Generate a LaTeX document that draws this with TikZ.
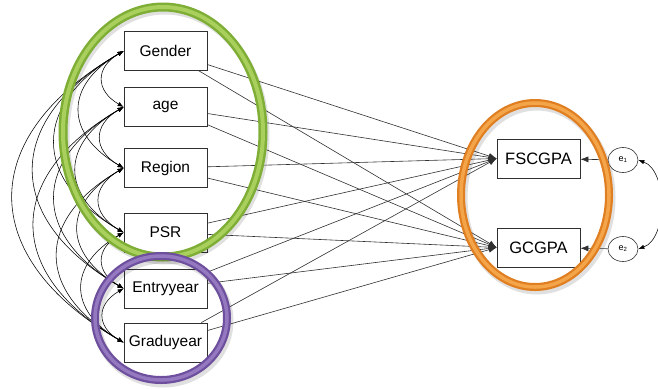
\documentclass[tikz,border=0pt]{standalone}
\usepackage{fontspec}
\setmainfont{Liberation Sans}
\usetikzlibrary{arrows.meta,shapes.geometric}
\definecolor{grnD}{HTML}{7FAE36}
\definecolor{grnL}{HTML}{A9CF5C}
\definecolor{purD}{HTML}{6E4F9E}
\definecolor{purL}{HTML}{9479C0}
\definecolor{orgD}{HTML}{E07F22}
\definecolor{orgL}{HTML}{F4A54A}
\definecolor{lineC}{HTML}{303030}
\begin{document}
\begin{tikzpicture}[x=1pt,y=-1pt,
  varbox/.style={draw=lineC,line width=0.7pt,fill=white,minimum width=83pt,minimum height=39pt,inner sep=0pt,font=\fontsize{15.5}{18}\selectfont},
  errnode/.style={draw=lineC,line width=0.6pt,ellipse,minimum width=30pt,minimum height=25pt,inner sep=0pt,font=\fontsize{9}{10}\selectfont},
  path/.style={draw=lineC,line width=0.6pt,-{Latex[length=8pt,width=6pt]}},
  cov/.style={draw=black,line width=0.55pt,{Latex[length=6pt,width=4.5pt]}-{Latex[length=6pt,width=4.5pt]}},
  ringshadow/.style={line width=9pt,draw=black,opacity=0.12},
]
\useasboundingbox (0,0) rectangle (658,389);
% exogenous boxes
\node[varbox] (g) at (165.5,51) {Gender};
\node[varbox] (a) at (165.5,107) {age};
\node[varbox] (r) at (165.5,168) {Region};
\node[varbox] (p) at (165.5,232.5) {PSR};
\node[varbox] (en) at (165.5,288.5) {Entryyear};
\node[varbox] (gr) at (165.5,342.5) {Graduyear};
% endogenous
\node[varbox,font=\fontsize{16.5}{18}\selectfont] (f) at (538.5,158.5) {FSCGPA};
\node[varbox,font=\fontsize{16.5}{18}\selectfont] (c) at (538.5,247.5) {GCGPA};
\node[errnode] (e1) at (623,160) {e\textsubscript{1}};
\node[errnode] (e2) at (623,249) {e\textsubscript{2}};
% regression paths
\foreach \s in {g,a,r,p,en,gr}{
  \draw[path] (\s) -- (f.west);
  \draw[path] (\s) -- (c.west);
}
\draw[path] (e1) -- (f);
\draw[path] (e2) -- (c);
\draw[cov] (e1.east) to[out=-20,in=20,looseness=0.9] (e2.east);
% covariances among exogenous
\foreach \u/\v in {g/a,g/r,g/p,g/en,g/gr,a/r,a/p,a/en,a/gr,r/p,r/en,r/gr,p/en,p/gr,en/gr}{
  \draw[cov] (\u.west) to[out=210,in=150,looseness=1.5] (\v.west);
}
% rings
\draw[ringshadow] (165,135) ellipse[x radius=100,y radius=125];
\draw[line width=9pt,draw=grnD] (163,132) ellipse[x radius=100,y radius=125];
\draw[line width=4pt,draw=grnL] (163,132) ellipse[x radius=100,y radius=125];
\draw[ringshadow] (163,321) ellipse[x radius=66,y radius=62];
\draw[line width=8pt,draw=purD] (161,318) ellipse[x radius=66,y radius=62];
\draw[line width=3.5pt,draw=purL] (161,318) ellipse[x radius=66,y radius=62];
\draw[ringshadow] (537,198) ellipse[x radius=74,y radius=92];
\draw[line width=8pt,draw=orgD] (535,195) ellipse[x radius=74,y radius=92];
\draw[line width=3.5pt,draw=orgL] (535,195) ellipse[x radius=74,y radius=92];
\end{tikzpicture}
\end{document}
